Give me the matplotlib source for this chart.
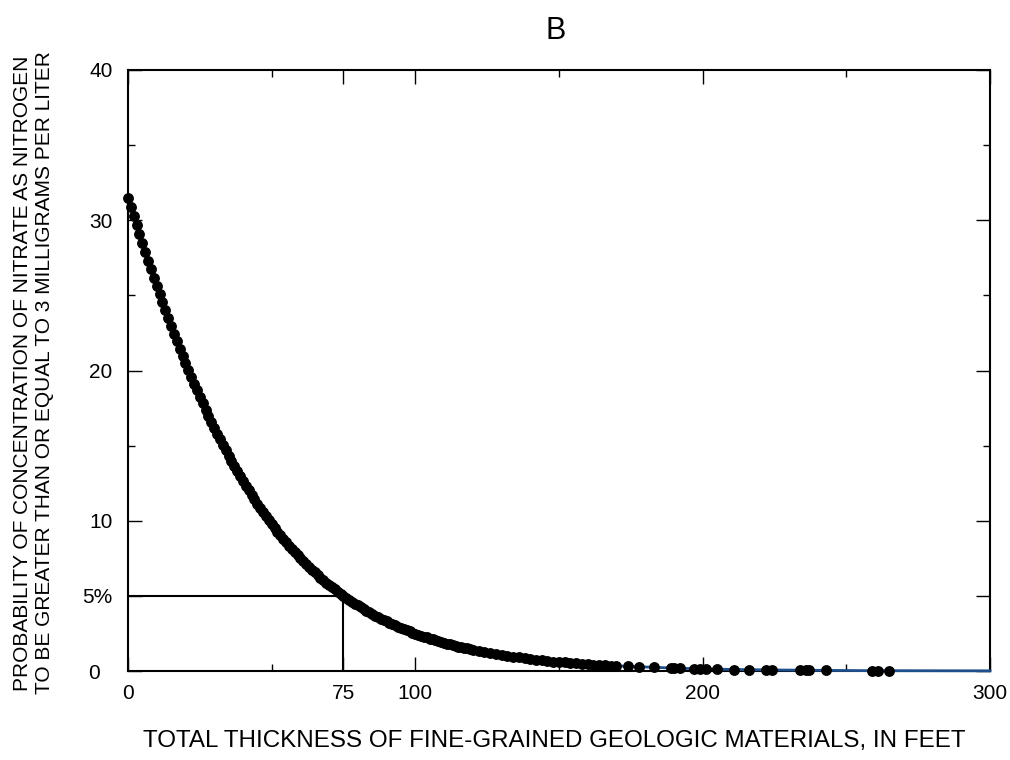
import matplotlib
matplotlib.use("Agg")
import matplotlib.pyplot as plt
import matplotlib.transforms as mtransforms

plt.rcParams['font.family'] = ['Liberation Sans', 'DejaVu Sans']

# thickness (feet) and probability (percent)
thickness = [
    0, 1, 2, 3, 4, 5, 6, 7, 8, 9, 10, 11, 12, 13, 14, 15, 16, 17, 18, 19,
    20, 21, 22, 23, 24, 25, 26, 27, 28, 29, 30, 31, 32, 33, 34, 35, 36, 37,
    38, 39, 40, 41, 42, 43, 44, 45, 46, 47, 48, 49, 50, 51, 52, 53, 54, 55,
    56, 57, 58, 59, 60, 61, 62, 63, 64, 65, 66, 67, 68, 69, 70, 71, 72, 73,
    74, 75, 76, 77, 78, 79, 80, 81, 82, 83, 84, 85, 86, 87, 88, 89, 90, 91,
    92, 93, 94, 95, 96, 97, 98, 99, 100, 101, 102, 103, 104, 105, 106, 107,
    108, 109, 110, 111, 112, 113, 114, 115, 116, 117, 118, 119,
    120, 122, 124, 126, 128, 130, 132, 134, 136, 138, 140, 142, 144,
    146, 148, 150, 152, 154, 156, 158, 160, 162, 164, 166, 168, 170,
    174, 178, 183, 189, 190, 192, 197, 199, 201, 205, 211, 216, 222, 224,
    234, 236, 237, 243, 259, 261, 265,
]
probability = [
    31.50, 30.88, 30.26, 29.66, 29.06, 28.47, 27.88, 27.30, 26.73, 26.17,
    25.62, 25.07, 24.53, 24.00, 23.48, 22.96, 22.45, 21.96, 21.46, 20.98,
    20.51, 20.04, 19.58, 19.13, 18.69, 18.25, 17.82, 17.40, 16.99, 16.59,
    16.19, 15.80, 15.42, 15.05, 14.69, 14.33, 13.98, 13.63, 13.30, 12.97,
    12.64, 12.33, 12.02, 11.72, 11.42, 11.13, 10.85, 10.57, 10.30, 10.04,
    9.78, 9.53, 9.28, 9.04, 8.81, 8.58, 8.35, 8.14, 7.92, 7.71,
    7.51, 7.31, 7.12, 6.93, 6.75, 6.57, 6.39, 6.22, 6.05, 5.89, 5.73, 5.58,
    5.43, 5.28, 5.14, 5.00, 4.87, 4.73, 4.60, 4.48, 4.36, 4.24, 4.12, 4.01,
    3.90, 3.79, 3.69, 3.59, 3.49, 3.39, 3.30, 3.21, 3.12, 3.03, 2.95, 2.87,
    2.79, 2.71, 2.64, 2.56, 2.49, 2.42, 2.36, 2.29, 2.23, 2.16, 2.10, 2.05,
    1.99, 1.93, 1.88, 1.83, 1.78, 1.73, 1.68, 1.63, 1.58, 1.54, 1.50, 1.45,
    1.41, 1.34, 1.26, 1.19, 1.13, 1.06, 1.00, 0.95, 0.90, 0.85, 0.80, 0.75,
    0.71, 0.67, 0.63, 0.60, 0.57, 0.53, 0.50, 0.48, 0.45, 0.42, 0.40, 0.38,
    0.36, 0.34,
    0.31, 0.28, 0.24, 0.20, 0.19, 0.18, 0.16, 0.15, 0.14, 0.12, 0.10, 0.09,
    0.08, 0.07, 0.05, 0.05, 0.05, 0.04, 0.02, 0.02, 0.02,
]

# fitted curve runs on past the last well to the end of the axis
curve_end_x = 300
curve_end_y = 0.01

x_ticks = [0, 75, 100, 200, 300]
x_minor = [50, 150, 250]
y_ticks = [0, 5, 10, 20, 30, 40]
y_labels = ['0', '5%', '10', '20', '30', '40']
y_minor = [15, 25, 35]

fig = plt.figure(figsize=(10.1, 7.6), dpi=100)
ax = fig.add_axes([0.1267, 0.1171, 0.8535, 0.7908])

ax.plot(thickness + [curve_end_x], probability + [curve_end_y],
        color='#1f4e8c', lw=2, zorder=3, clip_on=False)
ax.plot(thickness, probability, 'o', color='black', ms=6.8, zorder=4,
        clip_on=False)

# 5 percent guide at 75 feet
ax.plot([0, 75], [5, 5], color='black', lw=1.5, zorder=1)
ax.plot([75, 75], [0, 5], color='black', lw=1.5, zorder=1)

ax.set_xlim(0, 300)
ax.set_ylim(0, 40)
ax.set_xticks(x_ticks)
ax.set_xticks(x_minor, minor=True)
ax.set_yticks(y_ticks)
ax.set_yticklabels(y_labels)
ax.set_yticks(y_minor, minor=True)
ax.tick_params(which='both', direction='in', top=True, right=True,
               labelsize=15, width=1)
ax.tick_params(which='major', length=10)
ax.tick_params(which='minor', length=5)
ax.tick_params(axis='x', pad=9)
ax.tick_params(axis='y', pad=11)
for s in ax.spines.values():
    s.set_linewidth(1.5)

# the "0" on the y axis sits further left than the others
zero_lab = ax.get_yticklabels()[0]
zero_lab.set_transform(zero_lab.get_transform() +
                       mtransforms.ScaledTranslation(-13 / 100, 0,
                                                     fig.dpi_scale_trans))

ax.set_xlabel("TOTAL THICKNESS OF FINE-GRAINED GEOLOGIC MATERIALS, IN FEET",
              fontsize=17.4)
ax.xaxis.set_label_coords(0.495, -0.098)
ax.set_ylabel("PROBABILITY OF CONCENTRATION OF NITRATE AS NITROGEN\n"
              "TO BE GREATER THAN OR EQUAL TO 3 MILLIGRAMS PER LITER",
              fontsize=15, linespacing=1.2)
ax.yaxis.set_label_coords(-0.0858, 0.496)

fig.text(0.55, 1 - 31 / 760, "B", fontsize=22, ha='center', va='center')

fig.savefig("out.png", dpi=100)
